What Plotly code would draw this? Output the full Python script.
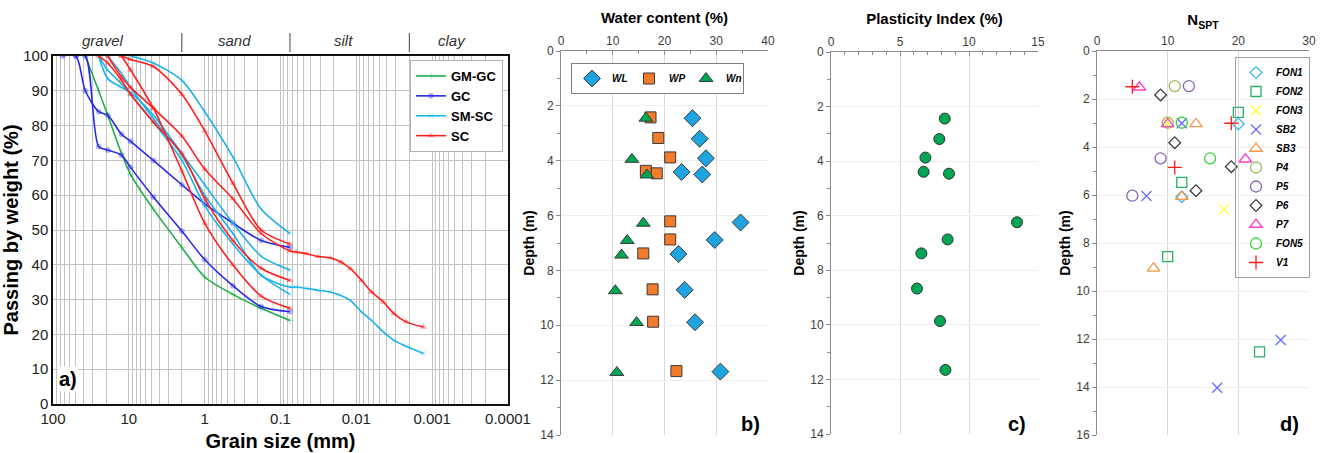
import math
import plotly.graph_objects as go

# ---------------- Panel a: grain-size distribution ----------------
sieve_mm = [75, 50, 37.5, 25, 19, 12.5, 9.5, 4.75, 2, 1, 0.425, 0.18, 0.075]
hydro_mm = [0.062, 0.045, 0.032, 0.022, 0.016, 0.012, 0.0085, 0.0063, 0.0044, 0.0032, 0.0022, 0.0013]

gmgc_1 = [None, None, 100, 90, 83, 72, 66, 56, 45, 36.5, 31.5, 27.5, 24]
gc_1 = [100, 100, 90, 84, 83, 77.5, 75.5, 70, 63, 57.5, 52, 47, 45]
gc_2 = [None, 100, 100, 74, 73, 71.5, 68, 59.5, 49.7, 41.5, 34, 28, 26.5]
smsc_1 = [None, None, None, None, None, None, 100, 98, 93, 84, 71, 56, 49]
smsc_2 = [None, None, None, 100, 93.5, 91, 89.5, 83, 72, 63, 52, 42.5, 38.5]
smsc_3 = [None, None, None, None, 100, 95, 91, 82, 71.5, 60, 49, 37, 33.6]
smsc_4 = [None, None, None, 100, 96, 92, 89, 81, 70, 57, 46, 37, 31.5]
smsc_3_hydro = [33.6, 33.2, 32.7, 32.2, 31.2, 29.8, 26.4, 24, 20.7, 18.3, 16.6, 14.5]
sc_1 = [None, None, None, None, None, 100, 99, 97, 89, 78.5, 63.5, 50, 46]
sc_2 = [None, None, None, None, 100, 94, 91, 85, 77, 67.5, 59, 49, 44]
sc_3 = [None, None, None, 100, 98, 93, 89, 81, 72, 59, 47, 39, 35.5]
sc_4 = [None, None, None, None, None, 100, 96, 85, 67, 52, 40, 31, 27.5]
sc_2_hydro = [43.7, 43.2, 42.4, 42, 40.8, 38.9, 35.5, 32.2, 29.3, 26, 23.6, 22.1]

grain_decades = [100, 10, 1, 0.1, 0.01, 0.001, 0.0001]
grain_tick_labels = ["100", "10", "1", "0.1", "0.01", "0.001", "0.0001"]
soil_classes = ["gravel", "sand", "silt", "clay"]
soil_boundaries_mm = [2, 0.075, 0.002]

# ---------------- Panel b: water content ----------------
wl_depth = [2.45, 3.2, 3.91, 4.41, 4.50, 6.25, 6.89, 7.40, 8.71, 9.89, 11.69]
wl_value = [25.4, 26.8, 28.0, 23.3, 27.3, 34.7, 29.7, 22.7, 23.9, 25.9, 30.8]
wp_depth = [2.42, 3.17, 3.88, 4.37, 4.46, 6.21, 6.87, 7.38, 8.69, 9.87, 11.67]
wp_value = [17.3, 18.8, 21.1, 16.4, 18.5, 21.1, 21.1, 15.9, 17.7, 17.8, 22.3]
wn_depth = [2.45, 3.95, 4.52, 6.28, 6.91, 7.44, 8.74, 9.90, 11.72]
wn_value = [16.4, 13.7, 16.6, 15.9, 12.8, 11.7, 10.5, 14.6, 10.8]

# ---------------- Panel c: plasticity index ----------------
pi_depth = [2.44, 3.19, 3.87, 4.39, 4.46, 6.24, 6.87, 7.38, 8.67, 9.86, 11.65]
pi_value = [8.24, 7.85, 6.84, 6.71, 8.55, 13.48, 8.45, 6.55, 6.23, 7.90, 8.29]

# ---------------- Panel d: N_SPT ----------------
fon1_n, fon1_depth = [20, 12], [3.04, 6.07]
fon2_n, fon2_depth = [20, 12, 10, 23], [2.56, 5.47, 8.57, 12.54]
fon3_n, fon3_depth = [10, 18], [2.99, 6.6]
sb2_n, sb2_depth = [12, 7, 26, 17], [3.01, 6.04, 12.04, 14.03]
sb3_n, sb3_depth = [14, 12, 8], [3.04, 6.07, 9.06]
p4_n, p4_depth = [11, 10], [1.46, 2.99]
p5_n, p5_depth = [13, 9, 5], [1.46, 4.47, 6.03]
p6_n, p6_depth = [9, 11, 19, 14], [1.83, 3.82, 4.82, 5.82]
p7_n, p7_depth = [6, 10, 21], [1.51, 3.04, 4.51]
fon5_n, fon5_depth = [12, 16], [2.99, 4.47]
v1_n, v1_depth = [5, 19, 11], [1.49, 3.01, 4.85]

# ================= figure =================
W, H = 1328, 453
FONT = "Arial, Liberation Sans, sans-serif"


def dx(p0, p1):
    return [p0 / W, p1 / W]


def dy(top, bottom):
    return [1 - bottom / H, 1 - top / H]


fig = go.Figure()

groups = [
    ("GM-GC", "#1fae4b", "cross-thin", [(gmgc_1, None)]),
    ("GC", "#2929e6", "circle", [(gc_1, None), (gc_2, None)]),
    ("SM-SC", "#1ab2ea", "x-thin", [(smsc_1, None), (smsc_2, None), (smsc_3, smsc_3_hydro), (smsc_4, None)]),
    ("SC", "#ff1f1f", "triangle-up", [(sc_1, None), (sc_2, sc_2_hydro), (sc_3, None), (sc_4, None)]),
]
for name, color, sym, curves in groups:
    for i, (passing, hydro) in enumerate(curves):
        xs = [s for s, v in zip(sieve_mm, passing) if v is not None]
        ys = [v for v in passing if v is not None]
        if hydro is not None:
            xs = xs + hydro_mm
            ys = ys + hydro
        fig.add_trace(go.Scatter(
            x=xs, y=ys, mode="lines+markers", name=name, legendgroup=name,
            showlegend=(i == 0), legend="legend", xaxis="x", yaxis="y",
            line=dict(color=color, width=1.6, shape="spline", smoothing=0.8),
            marker=dict(symbol=sym, size=5, color=color, opacity=0.35,
                        line=dict(color=color, width=1)),
        ))

# panel b
fig.add_trace(go.Scatter(x=wl_value, y=wl_depth, mode="markers", name="WL", legend="legend2",
                         xaxis="x2", yaxis="y2",
                         marker=dict(symbol="diamond", size=13, color="#1ea5e0",
                                     line=dict(color="#3a3a3a", width=1))))
fig.add_trace(go.Scatter(x=wp_value, y=wp_depth, mode="markers", name="WP", legend="legend2",
                         xaxis="x2", yaxis="y2",
                         marker=dict(symbol="square", size=11, color="#f07c2c",
                                     line=dict(color="#3a3a3a", width=1))))
fig.add_trace(go.Scatter(x=wn_value, y=wn_depth, mode="markers", name="Wn", legend="legend2",
                         xaxis="x2", yaxis="y2",
                         marker=dict(symbol="triangle-up", size=12, color="#00a651",
                                     line=dict(color="#3a3a3a", width=1))))

# panel c
fig.add_trace(go.Scatter(x=pi_value, y=pi_depth, mode="markers", name="PI", showlegend=False,
                         xaxis="x3", yaxis="y3",
                         marker=dict(symbol="circle", size=11, color="#00a651",
                                     line=dict(color="#333333", width=1))))

# panel d
spt_series = [
    ("FON1", fon1_n, fon1_depth, "diamond-open", "#3cbcf0", 9),
    ("FON2", fon2_n, fon2_depth, "square-open", "#2bb06a", 10),
    ("FON3", fon3_n, fon3_depth, "x-thin-open", "#ffff33", 10),
    ("SB2", sb2_n, sb2_depth, "x-thin-open", "#6b6bff", 10),
    ("SB3", sb3_n, sb3_depth, "triangle-up-open", "#f79646", 11),
    ("P4", p4_n, p4_depth, "circle-open", "#9bbb59", 11),
    ("P5", p5_n, p5_depth, "circle-open", "#8c64b4", 11),
    ("P6", p6_n, p6_depth, "diamond-open", "#404040", 9),
    ("P7", p7_n, p7_depth, "triangle-up-open", "#ff3fc8", 11),
    ("FON5", fon5_n, fon5_depth, "circle-open", "#3ad23a", 11),
    ("V1", v1_n, v1_depth, "cross-thin-open", "#ff1a1a", 10),
]
for name, n, d, sym, col, sz in spt_series:
    fig.add_trace(go.Scatter(x=n, y=d, mode="markers", name=name, legend="legend3",
                             xaxis="x4", yaxis="y4",
                             marker=dict(symbol=sym, size=sz, color=col,
                                         line=dict(color=col, width=1.3))))

# ---------- axes ----------
minor_vals = []
for dec in grain_decades:
    if dec < 100:
        for k in range(2, 10):
            minor_vals.append(dec * k)

AX_GREY = "#8c8c8c"
TICK_GREY = "#404040"
GRID_A = "#c4c4c4"

fig.update_layout(
    width=W, height=H, margin=dict(l=0, r=0, t=0, b=0, autoexpand=False),
    paper_bgcolor="white", plot_bgcolor="white",
    font=dict(family=FONT, color="#000"),
    xaxis=dict(domain=dx(53, 508), anchor="y", type="log", range=[2, -4], automargin=False,
               tickmode="array", tickvals=grain_decades, ticktext=grain_tick_labels,
               showgrid=True, gridcolor=GRID_A, gridwidth=1,
               minor=dict(tickmode="array", tickvals=minor_vals, showgrid=True,
                          gridcolor=GRID_A, gridwidth=1, ticks=""),
               showline=True, linecolor="#111", linewidth=1.5, mirror=True,
               ticks="", tickfont=dict(size=15, color="#222"), zeroline=False,
               title=dict(text="<b>Grain size (mm)</b>", font=dict(size=20), standoff=8)),
    yaxis=dict(domain=dy(56, 404), anchor="x", range=[0, 100], dtick=10, automargin=False,
               showgrid=True, gridcolor=GRID_A, gridwidth=1,
               showline=True, linecolor="#111", linewidth=1.5, mirror=True,
               ticks="", tickfont=dict(size=15, color="#222"), zeroline=False,
               title=dict(text="<b>Passing by weight (%)</b>", font=dict(size=20), standoff=2)),
    xaxis2=dict(domain=dx(561, 768), anchor="y2", side="top", range=[0, 40], dtick=10,
                automargin=False,
                showgrid=True, gridcolor="#d9d9d9", showline=True, linecolor=AX_GREY,
                ticks="inside", ticklen=4, tickcolor=AX_GREY,
                minor=dict(dtick=5, ticks="inside", ticklen=3, tickcolor=AX_GREY),
                tickfont=dict(size=12, color=TICK_GREY), zeroline=False,
                title=dict(text="<b>Water content (%)</b>", font=dict(size=15), standoff=6)),
    yaxis2=dict(domain=dy(51, 435), anchor="x2", range=[14, 0], dtick=2, automargin=False,
                showgrid=True, gridcolor="#efefef", showline=True, linecolor=AX_GREY,
                ticks="outside", ticklen=4, tickcolor=AX_GREY,
                minor=dict(dtick=1, ticks="outside", ticklen=3, tickcolor=AX_GREY),
                tickfont=dict(size=12, color=TICK_GREY), zeroline=False,
                title=dict(text="<b>Depth (m)</b>", font=dict(size=14), standoff=2)),
    xaxis3=dict(domain=dx(831, 1038), anchor="y3", side="top", range=[0, 15], dtick=5,
                automargin=False,
                showgrid=True, gridcolor="#d9d9d9", showline=True, linecolor=AX_GREY,
                ticks="inside", ticklen=4, tickcolor=AX_GREY,
                minor=dict(dtick=1, ticks="inside", ticklen=3, tickcolor=AX_GREY),
                tickfont=dict(size=12, color=TICK_GREY), zeroline=False,
                title=dict(text="<b>Plasticity Index (%)</b>", font=dict(size=15), standoff=6)),
    yaxis3=dict(domain=dy(52, 434), anchor="x3", range=[14, 0], dtick=2, automargin=False,
                showgrid=True, gridcolor="#efefef", showline=True, linecolor=AX_GREY,
                ticks="outside", ticklen=4, tickcolor=AX_GREY,
                minor=dict(dtick=1, ticks="outside", ticklen=3, tickcolor=AX_GREY),
                tickfont=dict(size=12, color=TICK_GREY), zeroline=False,
                title=dict(text="<b>Depth (m)</b>", font=dict(size=14), standoff=2)),
    xaxis4=dict(domain=dx(1097, 1309), anchor="y4", side="top", range=[0, 30], dtick=10,
                automargin=False,
                showgrid=True, gridcolor="#d9d9d9", showline=True, linecolor=AX_GREY,
                ticks="", tickfont=dict(size=12, color=TICK_GREY), zeroline=False,
                title=dict(text="<b>N<sub>SPT</sub></b>", font=dict(size=15), standoff=4)),
    yaxis4=dict(domain=dy(51, 435), anchor="x4", range=[16, 0], dtick=2, automargin=False,
                showgrid=True, gridcolor="#efefef", showline=True, linecolor=AX_GREY,
                ticks="outside", ticklen=4, tickcolor=AX_GREY,
                minor=dict(dtick=1, ticks="outside", ticklen=3, tickcolor=AX_GREY),
                tickfont=dict(size=12, color=TICK_GREY), zeroline=False,
                title=dict(text="<b>Depth (m)</b>", font=dict(size=14), standoff=2)),
    legend=dict(x=503 / W, xanchor="right", y=1 - 60 / H, yanchor="top",
                bgcolor="white", bordercolor="#b0b0b0", borderwidth=1,
                font=dict(size=13, weight="bold"), tracegroupgap=0, itemwidth=30),
    legend2=dict(orientation="h", x=571 / W, xanchor="left", y=1 - 63 / H, yanchor="top",
                 bgcolor="white", bordercolor="#808080", borderwidth=1,
                 entrywidth=12, entrywidthmode="pixels",
                 font=dict(size=10, weight="bold", style="italic"), itemwidth=30),
    legend3=dict(x=1310 / W, xanchor="right", y=1 - 57 / H, yanchor="top",
                 bgcolor="rgba(255,255,255,0)", bordercolor="#a0a0a0", borderwidth=1,
                 font=dict(size=10, weight="bold", style="italic"), itemwidth=30,
                 tracegroupgap=0),
)

# panel labels and soil class labels
ann = [
    dict(text="<b>a)</b>", xref="paper", yref="paper", x=68 / W, y=1 - 379 / H,
         showarrow=False, font=dict(size=20), bgcolor="white", xanchor="center", yanchor="middle"),
    dict(text="<b>b)</b>", xref="paper", yref="paper", x=750 / W, y=1 - 424 / H,
         showarrow=False, font=dict(size=20), xanchor="center", yanchor="middle"),
    dict(text="<b>c)</b>", xref="paper", yref="paper", x=1017 / W, y=1 - 424 / H,
         showarrow=False, font=dict(size=20), xanchor="center", yanchor="middle"),
    dict(text="<b>d)</b>", xref="paper", yref="paper", x=1289 / W, y=1 - 424 / H,
         showarrow=False, font=dict(size=20), xanchor="center", yanchor="middle"),
]
label_fracs = [0.109, 0.398, 0.639, 0.876]
for lab, fx in zip(soil_classes, label_fracs):
    ann.append(dict(text="<i>%s</i>" % lab, xref="x domain", yref="paper", x=fx, y=1 - 40 / H,
                    showarrow=False, font=dict(size=15, color="#333"), xanchor="center",
                    yanchor="middle"))
fig.update_layout(annotations=ann)

for b in soil_boundaries_mm:
    frac = (math.log10(100) - math.log10(b)) / 6.0
    fig.add_shape(type="line", xref="x domain", yref="paper", x0=frac, x1=frac,
                  y0=1 - 33 / H, y1=1 - 52 / H, line=dict(color="#444", width=1))

fig.write_html("out.html", config={"displayModeBar": False},
               post_script="document.body.style.margin='0';")
